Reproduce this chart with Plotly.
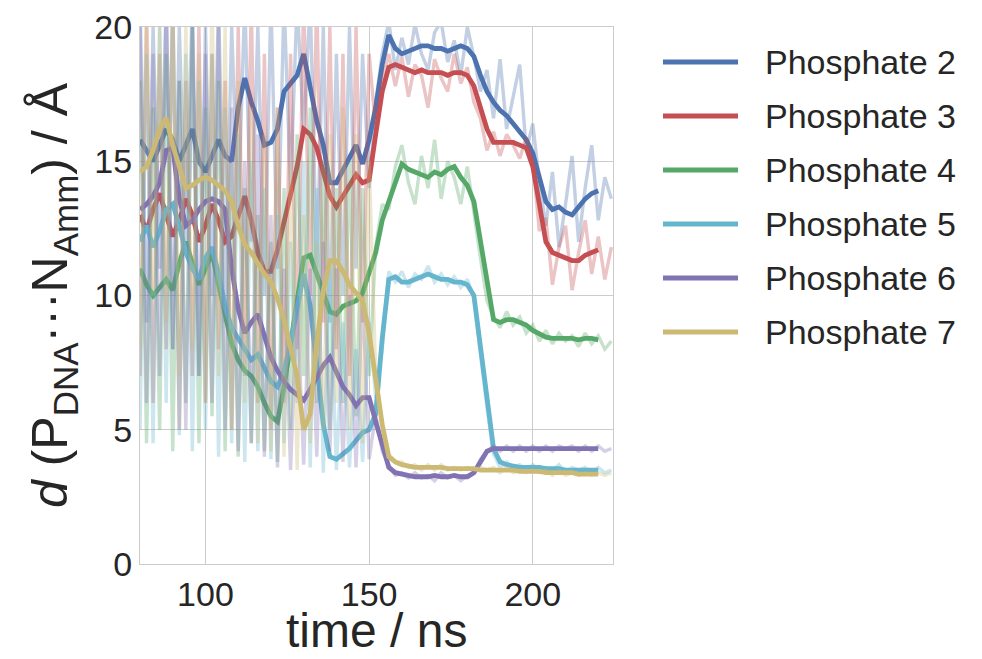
import numpy as np
import plotly.graph_objects as go

# Time axes (ns): running averages every 2 ns, raw samples every 2 ns
t_smooth = np.arange(80, 222, 2)
t_raw = np.arange(80, 226, 2)

labels = ["Phosphate 2", "Phosphate 3", "Phosphate 4",
          "Phosphate 5", "Phosphate 6", "Phosphate 7"]
colors = ["#4C72B0", "#C44E52", "#55A868", "#64B5CD", "#8172B2", "#CCB974"]

# Running-average distances d(P...N) in Angstrom
p2_smooth = [15.8, 15.4, 15.0, 15.6, 16.2, 15.8, 15.0, 15.6, 16.2, 15.0,
             14.6, 15.2, 15.8, 15.2, 15.0, 17.0, 18.1, 17.2, 16.5, 15.6,
             15.7, 16.2, 17.6, 17.9, 18.2, 19.0, 17.7, 16.5, 15.6, 14.2,
             14.2, 14.7, 15.2, 15.6, 14.9, 15.8, 17.0, 18.6, 19.7, 19.2,
             19.0, 19.1, 19.2, 19.3, 19.3, 19.2, 19.2, 19.1, 19.2, 19.3,
             19.2, 18.9, 18.2, 17.6, 17.2, 16.9, 16.7, 16.4, 16.1, 15.8,
             15.3, 14.4, 13.5, 13.2, 13.3, 13.1, 13.0, 13.3, 13.6, 13.8,
             13.9]
p3_smooth = [13.0, 12.4, 13.2, 13.8, 13.0, 12.2, 12.8, 13.6, 13.0, 12.0,
             12.6, 13.4, 12.8, 12.0, 12.2, 13.0, 13.7, 12.8, 11.6, 10.9,
             10.9, 11.7, 12.8, 13.8, 14.8, 16.2, 16.0, 15.5, 14.6, 13.7,
             13.3, 13.7, 14.1, 14.5, 14.2, 14.3, 16.0, 17.6, 18.5, 18.6,
             18.5, 18.4, 18.3, 18.4, 18.3, 18.3, 18.3, 18.2, 18.3, 18.3,
             18.2, 17.8, 17.0, 16.2, 15.7, 15.7, 15.7, 15.7, 15.6, 15.5,
             14.8, 13.5, 12.0, 11.6, 11.5, 11.4, 11.3, 11.3, 11.5, 11.6,
             11.7]
p4_smooth = [11.0, 10.4, 10.0, 10.3, 10.6, 10.2, 11.2, 12.0, 11.2, 10.4,
             11.0, 11.6, 10.4, 9.2, 8.2, 7.6, 7.2, 7.0, 6.6, 6.0,
             5.5, 5.3, 6.6, 8.2, 9.8, 11.4, 11.5, 10.8, 10.2, 9.4,
             9.3, 9.6, 9.7, 9.8, 10.1, 10.8, 11.6, 12.8, 13.5, 14.3,
             14.9, 14.7, 14.6, 14.5, 14.4, 14.6, 14.5, 14.7, 14.8, 14.4,
             14.1, 13.5, 12.0, 10.4, 9.1, 9.0, 9.1, 9.1, 9.0, 8.9,
             8.7, 8.55, 8.45, 8.4, 8.4, 8.4, 8.4, 8.35, 8.4, 8.4,
             8.35]
p5_smooth = [12.0, 12.6, 11.8, 12.4, 13.2, 13.4, 12.6, 11.6, 11.0, 10.6,
             11.4, 11.8, 10.8, 9.6, 8.8, 8.4, 8.0, 7.6, 7.8, 7.3,
             6.8, 6.6, 7.2, 8.2, 9.6, 10.8, 9.6, 7.2, 5.2, 4.0,
             3.9, 4.1, 4.3, 4.6, 4.9, 5.0, 5.6, 8.4, 10.6, 10.7,
             10.5, 10.5, 10.6, 10.7, 10.8, 10.7, 10.6, 10.6, 10.5, 10.5,
             10.4, 10.0, 8.0, 6.0, 4.3, 3.8, 3.7, 3.65, 3.6, 3.6,
             3.6, 3.6, 3.55, 3.55, 3.55, 3.5, 3.5, 3.5, 3.5, 3.5,
             3.5]
p6_smooth = [13.2, 13.4, 13.7, 14.2, 15.4, 15.5, 13.6, 12.6, 12.8, 13.2,
             13.5, 13.6, 13.5, 13.2, 11.0, 9.5, 8.6, 9.0, 9.3, 8.5,
             7.7, 7.2, 6.8, 6.5, 6.3, 6.1, 6.5, 7.0, 7.4, 7.7,
             7.1, 6.6, 6.3, 5.9, 6.2, 6.2, 5.3, 4.4, 3.6, 3.4,
             3.35, 3.3, 3.25, 3.25, 3.25, 3.3, 3.25, 3.25, 3.3, 3.25,
             3.25, 3.4, 3.8, 4.2, 4.3, 4.3, 4.3, 4.3, 4.3, 4.3,
             4.3, 4.3, 4.3, 4.3, 4.3, 4.3, 4.3, 4.3, 4.3, 4.3,
             4.3]
p7_smooth = [14.6, 14.8, 15.4, 16.2, 16.6, 15.6, 14.8, 14.0, 14.1, 14.3,
             14.4, 14.3, 14.1, 13.9, 13.5, 12.6, 11.9, 11.6, 11.2, 10.8,
             10.5, 9.9, 9.1, 8.1, 7.0, 5.0, 5.6, 8.2, 10.2, 11.3,
             11.3, 10.9, 10.4, 10.1, 9.8, 8.6, 6.9, 5.2, 4.0, 3.8,
             3.7, 3.65, 3.6, 3.6, 3.6, 3.6, 3.6, 3.55, 3.55, 3.55,
             3.55, 3.55, 3.5, 3.5, 3.5, 3.5, 3.5, 3.5, 3.45, 3.45,
             3.45, 3.45, 3.4, 3.4, 3.4, 3.4, 3.4, 3.35, 3.35, 3.35,
             3.35]

# Instantaneous distances (Angstrom)
p2_raw = [21, 9, 20, 11, 21, 8, 20, 12, 21, 7,
          20, 10, 21, 9, 20, 13, 21, 12, 20, 10,
          21, 11, 21, 14, 21, 16, 21, 11, 20, 9,
          19, 10, 20, 11, 19, 14, 17.2, 19.0, 20.2, 18.4,
          19.6, 18.6, 20.1, 19.0, 18.4, 19.8, 20.2, 18.7, 19.5, 18.2,
          20.0, 18.9, 17.6, 18.4, 16.6, 18.8, 16.2, 17.4, 18.6, 15.4,
          16.4, 14.2, 12.6, 14.6, 11.8, 13.4, 15.2, 12.0, 14.0, 15.6,
          12.8, 14.4, 13.6]
p3_raw = [7, 20, 6, 19, 8, 21, 5, 18, 7, 20,
          6, 19, 8, 18, 5, 20, 7, 21, 6, 19,
          5, 17, 6, 19, 8, 21, 10, 21, 9, 20,
          8, 19, 7, 20, 9, 19, 16.2, 18.0, 19.0, 17.8,
          18.9, 17.4, 18.6, 18.2, 17.0, 18.8, 18.1, 17.6, 19.0, 17.9,
          18.5, 17.2, 16.6, 15.4, 16.1, 15.2, 16.0, 15.6, 15.1, 15.9,
          15.0, 12.4, 12.9, 10.4, 11.8, 12.6, 10.2, 11.6, 12.8, 10.8,
          12.2, 10.6, 11.8]
p4_raw = [18, 4.5, 17, 5, 19, 4.2, 18, 6, 20, 4.5,
          17, 5.5, 18, 4.2, 15, 4.0, 14, 4.5, 13, 4.2,
          12, 3.8, 14, 5, 16, 7, 17, 6, 15, 5,
          14, 6, 15, 5.5, 14, 7, 11.8, 13.4, 13.2, 14.8,
          15.6, 14.2, 13.4, 15.2, 14.0, 15.8, 13.6, 15.0, 14.4, 13.4,
          14.8, 13.0, 11.4, 9.8, 9.2, 8.8, 9.4, 8.9, 9.2, 8.6,
          8.9, 8.3, 8.7, 8.2, 8.6, 8.3, 8.5, 8.1, 8.6, 8.2,
          8.5, 8.0, 8.3]
p5_raw = [5, 19, 4.5, 20, 6, 21, 4.8, 19, 4.2, 18,
          5, 19, 4.0, 17, 4.5, 16, 3.8, 15, 4.2, 14,
          3.9, 13, 4.5, 12, 6, 15, 3.6, 14, 3.4, 11,
          3.5, 9, 3.6, 8, 3.8, 9, 6.2, 8.0, 10.9, 10.5,
          10.9, 10.3, 10.8, 10.6, 11.1, 10.5, 10.8, 10.4, 10.7, 10.3,
          10.6, 9.9, 7.8, 5.8, 4.1, 3.6, 3.8, 3.6, 3.7, 3.5,
          3.7, 3.5, 3.6, 3.5, 3.7, 3.4, 3.6, 3.5, 3.6, 3.4,
          3.6, 3.4, 3.5]
p6_raw = [20, 6, 19, 7, 21, 8, 18, 5, 20, 7,
          19, 6, 20, 5, 17, 4.2, 15, 4.5, 16, 4.0,
          13, 3.6, 11, 3.5, 10, 3.7, 11, 4.0, 12, 4.2,
          11, 3.8, 10, 3.6, 10, 3.9, 5.6, 4.2, 3.7, 3.3,
          3.4, 3.2, 3.4, 3.2, 3.3, 3.1, 3.4, 3.2, 3.3, 3.1,
          3.3, 3.4, 3.9, 4.2, 4.4, 4.2, 4.4, 4.2, 4.4, 4.2,
          4.4, 4.2, 4.4, 4.2, 4.4, 4.3, 4.4, 4.2, 4.4, 4.2,
          4.4, 4.2, 4.3]
p7_raw = [8, 21, 10, 20, 9, 21, 7, 20, 8, 19,
          6, 21, 7, 20, 5, 18, 6, 17, 4.5, 16,
          4.2, 17, 4.0, 15, 3.5, 13, 4.5, 12, 5, 16,
          6, 17, 5, 16, 4.5, 15, 7.2, 5.0, 4.1, 3.8,
          3.8, 3.6, 3.7, 3.5, 3.7, 3.5, 3.7, 3.5, 3.6, 3.5,
          3.6, 3.5, 3.6, 3.5, 3.6, 3.4, 3.6, 3.4, 3.5, 3.4,
          3.5, 3.4, 3.5, 3.3, 3.5, 3.3, 3.4, 3.3, 3.4, 3.3,
          3.4, 3.3, 3.4]

smooth_series = [p2_smooth, p3_smooth, p4_smooth, p5_smooth, p6_smooth, p7_smooth]
raw_series = [p2_raw, p3_raw, p4_raw, p5_raw, p6_raw, p7_raw]

FONT = "Liberation Sans, Arial, Helvetica, sans-serif"
TEXT = "#262626"
GRID = "#cccccc"

fig = go.Figure()
for name, col, raw, smooth in zip(labels, colors, raw_series, smooth_series):
    fig.add_trace(go.Scatter(x=t_raw, y=raw, mode="lines", name=name + " (raw)",
                             line=dict(color=col, width=3.4), opacity=0.33,
                             showlegend=False, hoverinfo="skip"))
    fig.add_trace(go.Scatter(x=t_smooth, y=smooth, mode="lines", name=name,
                             line=dict(color=col, width=4.8), showlegend=False))

# Legend drawn at the right of the axes
plot_top, plot_bottom = 27, 564
plot_left, plot_w = 140, 473
plot_h = plot_bottom - plot_top
row0, row_step = 62, 54
for i, (name, col) in enumerate(zip(labels, colors)):
    yp = (plot_bottom - (row0 + row_step * i)) / plot_h
    fig.add_shape(type="line", xref="paper", yref="paper",
                  x0=(663 - plot_left) / plot_w, x1=(738 - plot_left) / plot_w,
                  y0=yp, y1=yp, line=dict(color=col, width=5))
    fig.add_annotation(xref="paper", yref="paper", x=(763 - plot_left) / plot_w, y=yp,
                       text=name, showarrow=False, xanchor="left", yanchor="middle",
                       font=dict(size=34, color=TEXT, family=FONT))

# x-axis title, set in the bottom margin
fig.add_annotation(xref="paper", yref="paper", x=0.5, y=(plot_bottom - 659) / plot_h,
                   text="time / ns", showarrow=False,
                   xanchor="center", yanchor="bottom",
                   font=dict(size=48, color=TEXT, family=FONT))

fig.update_layout(
    width=982, height=659,
    margin=dict(l=140, r=369, t=27, b=95, autoexpand=False),
    plot_bgcolor="white", paper_bgcolor="white",
    showlegend=False,
    font=dict(family=FONT, color=TEXT),
)
fig.update_xaxes(
    range=[80, 224.5], tickvals=[100, 150, 200], automargin=False,
    showgrid=True, gridcolor=GRID, gridwidth=1, zeroline=False,
    showline=True, mirror=True, linecolor=GRID, linewidth=1,
    ticks="", tickfont=dict(size=34, color=TEXT),
)
fig.update_yaxes(
    range=[0, 20], tickvals=[0, 5, 10, 15, 20], automargin=False,
    showgrid=True, gridcolor=GRID, gridwidth=1, zeroline=False,
    showline=True, mirror=True, linecolor=GRID, linewidth=1,
    ticks="", tickfont=dict(size=34, color=TEXT),
    title=dict(text="<i>d</i> (P<sub>DNA</sub>···N<sub>Amm</sub>) / Å",
               font=dict(size=50, color=TEXT), standoff=10),
)

fig.write_html("out.html")
